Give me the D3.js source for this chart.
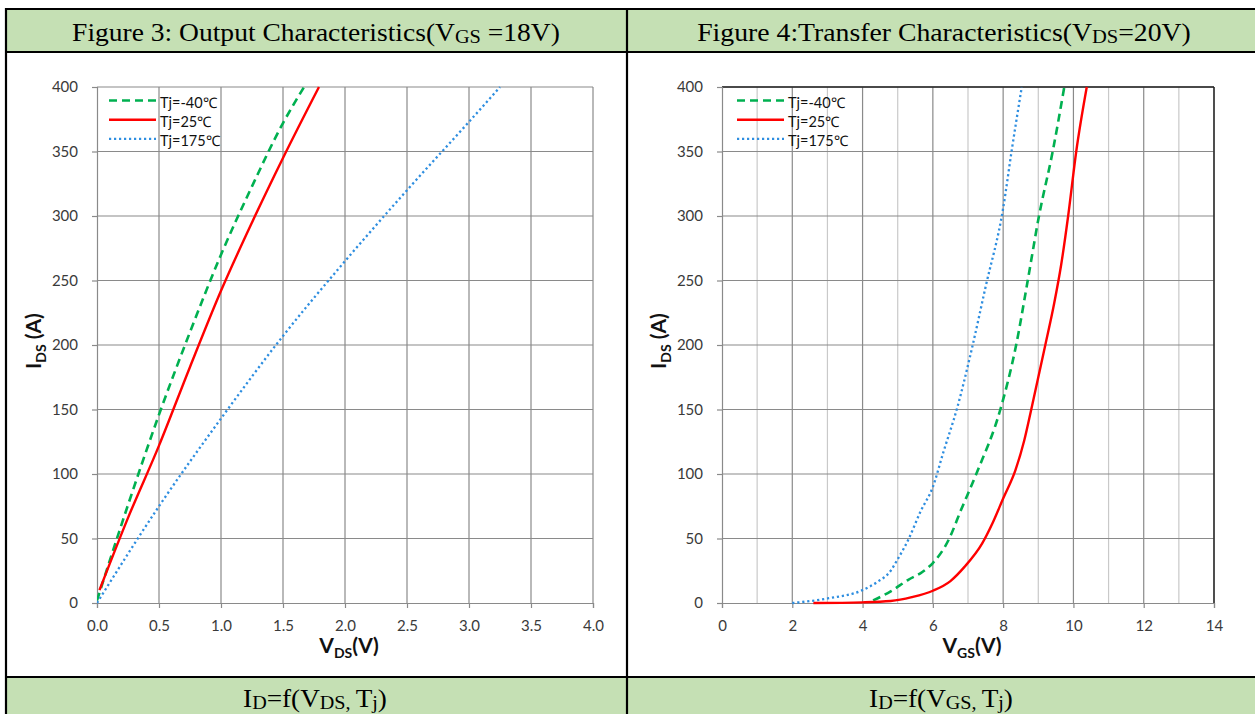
<!DOCTYPE html>
<html>
<head>
<meta charset="utf-8">
<script src="https://cdn.jsdelivr.net/npm/d3@7"></script>
<style>
  body { margin: 0; background: #fff; }
  svg { display: block; }
</style>
</head>
<body>
<svg id="chart" width="1255" height="714"></svg>
<script>
// ---- Figure 3: output characteristics, I_DS vs V_DS at V_GS = 18 V ----
const vdsTicks = [0, 0.5, 1.0, 1.5, 2.0, 2.5, 3.0, 3.5, 4.0];
const currentTicks = [0, 50, 100, 150, 200, 250, 300, 350, 400];
const outputTjM40 = [[0, 2], [0.25, 76], [0.5, 146], [0.75, 210], [1.0, 270], [1.25, 323], [1.5, 372], [1.67, 400]];
const outputTj25 = [[0.02, 10], [0.25, 66], [0.5, 122], [0.75, 183], [1.0, 242], [1.25, 295], [1.5, 345], [1.79, 400]];
const outputTj175 = [[0, 0], [0.5, 75], [1.0, 143], [1.5, 207], [2.0, 265], [2.5, 320], [3.0, 373], [3.25, 400]];

// ---- Figure 4: transfer characteristics, I_DS vs V_GS at V_DS = 20 V ----
const vgsTicks = [0, 2, 4, 6, 8, 10, 12, 14];
const vgsGrid = [1, 2, 3, 4, 5, 6, 7, 8, 9, 10, 11, 12, 13, 14];
const transferTjM40 = [[4.3, 2], [4.8, 9], [5.3, 18], [5.7, 24], [6.0, 31], [6.45, 49], [6.8, 72], [7.25, 101],
  [7.92, 150], [8.37, 200], [8.7, 250], [9.02, 300], [9.41, 350], [9.74, 400]];
const transferTj25 = [[2.6, 0], [4.0, 0.5], [4.8, 1.5], [5.4, 4.5], [6.0, 9.5], [6.5, 17], [6.9, 28], [7.4, 46],
  [7.7, 62], [8.0, 81], [8.35, 103], [8.6, 126], [8.8, 150], [9.2, 200], [9.45, 232], [9.65, 262], [9.85, 300],
  [10.08, 350], [10.38, 400]];
const transferTj175 = [[2.0, 0], [3.0, 3.5], [4.0, 10], [4.4, 16], [4.8, 25], [5.0, 34], [5.3, 49], [5.65, 71],
  [6.0, 90], [6.3, 117], [6.7, 152], [7.1, 196], [7.5, 245], [8.0, 306], [8.25, 352], [8.53, 400]];

const legendLabels = ["Tj=-40\u2103", "Tj=25\u2103", "Tj=175\u2103"];

const seriesStyles = [
  { color: "#00b050", width: 2.6, dash: "8,5" },
  { color: "#ff0000", width: 2.4, dash: null },
  { color: "#2e8ee0", width: 2.3, dash: "2.2,2.8" }
];

const svg = d3.select("#chart");
const serif = "'Liberation Serif', 'Times New Roman', serif";
const sans = "Lato, 'Open Sans', sans-serif";

// ---- table frame ----
const headerFill = "#c5e0b4";
svg.append("rect").attr("x", 6).attr("y", 9).attr("width", 1260).attr("height", 43).attr("fill", headerFill);
svg.append("rect").attr("x", 6).attr("y", 677).attr("width", 1260).attr("height", 40).attr("fill", headerFill);
const frame = svg.append("g").attr("stroke", "#000").attr("stroke-width", 2.2);
frame.append("line").attr("x1", 6).attr("x2", 1260).attr("y1", 9).attr("y2", 9);
frame.append("line").attr("x1", 6).attr("x2", 1260).attr("y1", 52).attr("y2", 52);
frame.append("line").attr("x1", 6).attr("x2", 1260).attr("y1", 677).attr("y2", 677);
frame.append("line").attr("x1", 6).attr("x2", 6).attr("y1", 8).attr("y2", 714);
frame.append("line").attr("x1", 627).attr("x2", 627).attr("y1", 8).attr("y2", 714);

// Cell text with subscripts, stretched horizontally to the cell's text width
function richText(cx, y, parts, size, width) {
  const t = svg.append("text").attr("x", 0).attr("y", 0).attr("text-anchor", "middle")
    .attr("font-family", serif).attr("font-size", size).attr("fill", "#000");
  let shift = 0;
  parts.forEach(p => {
    const sub = p.sub === true;
    const target = sub ? 2 : 0;
    t.append("tspan").attr("dy", target - shift).attr("font-size", sub ? size * 0.74 : size)
      .style("white-space", "pre").text(p.t);
    shift = target;
  });
  const w = t.node().getBBox().width;
  const k = width / w;
  t.attr("transform", `translate(${cx},${y}) scale(${k},1)`);
  return t;
}

richText(316, 41, [{ t: "Figure 3: Output Characteristics(V" }, { t: "GS", sub: true }, { t: " =18V)" }], 25, 488);
richText(944, 41, [{ t: "Figure 4:Transfer Characteristics(V" }, { t: "DS", sub: true }, { t: "=20V)" }], 25, 494);
richText(315, 707, [{ t: "I" }, { t: "D", sub: true }, { t: "=f(V" }, { t: "DS, ", sub: true }, { t: "T" }, { t: "j", sub: true }, { t: ")" }], 25, 144);
richText(941, 707, [{ t: "I" }, { t: "D", sub: true }, { t: "=f(V" }, { t: "GS, ", sub: true }, { t: "T" }, { t: "j", sub: true }, { t: ")" }], 25, 144);

// ---- one chart panel ----
function drawPanel(cfg) {
  const g = svg.append("g");
  const x = d3.scaleLinear().domain(cfg.xDomain).range([cfg.left, cfg.right]);
  const y = d3.scaleLinear().domain([0, 400]).range([603, 87]);

  // grid
  const grid = g.append("g");
  cfg.xGrid.forEach(v => {
    const minor = cfg.minor && cfg.minor(v);
    grid.append("line").attr("x1", x(v)).attr("x2", x(v)).attr("y1", y(0)).attr("y2", y(400))
      .attr("stroke", minor ? "#c9c9c9" : "#8a8a8a").attr("stroke-width", 1.2);
  });
  currentTicks.filter(v => v > 0).forEach(v => {
    grid.append("line").attr("x1", x(cfg.xDomain[0])).attr("x2", x(cfg.xDomain[1])).attr("y1", y(v)).attr("y2", y(v))
      .attr("stroke", "#8a8a8a").attr("stroke-width", 1.2);
  });
  if (cfg.darkFrame) {
    grid.append("line").attr("x1", x(cfg.xDomain[0])).attr("x2", x(cfg.xDomain[1])).attr("y1", y(400)).attr("y2", y(400))
      .attr("stroke", "#222").attr("stroke-width", 1.4);
    grid.append("line").attr("x1", x(cfg.xDomain[1])).attr("x2", x(cfg.xDomain[1])).attr("y1", y(0)).attr("y2", y(400))
      .attr("stroke", "#222").attr("stroke-width", 1.4);
  }

  // axes
  const yAxis = d3.axisLeft(y).tickValues(currentTicks).tickSize(5).tickPadding(14).tickFormat(d3.format("d"));
  const xAxis = d3.axisBottom(x).tickValues(cfg.xTicks).tickSize(5).tickPadding(12).tickFormat(cfg.xFormat);
  const ya = g.append("g").attr("transform", `translate(${cfg.left},0)`).call(yAxis);
  const xa = g.append("g").attr("transform", `translate(0,${y(0)})`).call(xAxis);
  [ya, xa].forEach(a => {
    a.select(".domain").attr("stroke", "#8a8a8a").attr("stroke-width", 1.2);
    a.selectAll(".tick line").attr("stroke", "#8a8a8a").attr("stroke-width", 1.2);
    a.selectAll(".tick text").attr("font-family", sans).attr("font-size", 15).attr("fill", "#3a3a3a");
  });

  // curves
  const clipId = "clip" + cfg.left;
  g.append("clipPath").attr("id", clipId).append("rect")
    .attr("x", cfg.left).attr("y", y(400) - 2).attr("width", cfg.right - cfg.left).attr("height", y(0) - y(400) + 4);
  const line = d3.line().x(d => x(d[0])).y(d => y(d[1])).curve(d3.curveMonotoneX);
  cfg.series.forEach((s, i) => {
    const st = seriesStyles[i];
    g.append("path").datum(s).attr("clip-path", `url(#${clipId})`)
      .attr("d", line).attr("fill", "none").attr("stroke", st.color).attr("stroke-width", st.width)
      .attr("stroke-dasharray", st.dash).attr("stroke-linejoin", "round");
  });

  // legend
  const lg = g.append("g");
  legendLabels.forEach((label, i) => {
    const st = seriesStyles[i];
    const ly = 100.5 + i * 19.2;
    lg.append("line").attr("x1", cfg.legendX).attr("x2", cfg.legendX + 47).attr("y1", ly).attr("y2", ly)
      .attr("stroke", st.color).attr("stroke-width", st.width).attr("stroke-dasharray", st.dash);
    lg.append("text").attr("x", cfg.legendX + 51).attr("y", ly + 3.5).attr("dominant-baseline", "middle")
      .attr("font-family", sans).attr("font-size", 14.5).attr("fill", "#111").text(label);
  });

  // axis titles
  const xt = g.append("text").attr("x", cfg.xTitleX).attr("y", 653).attr("text-anchor", "middle")
    .attr("font-family", sans).attr("font-weight", "bold").attr("font-size", 21).attr("fill", "#111");
  xt.append("tspan").text("V");
  xt.append("tspan").attr("dy", 5).attr("font-size", 14).text(cfg.xSub);
  xt.append("tspan").attr("dy", -5).text("(V)");

  const yt = g.append("text").attr("transform", `translate(${cfg.yTitleX},341) rotate(-90)`).attr("text-anchor", "middle")
    .attr("font-family", sans).attr("font-weight", "bold").attr("font-size", 21).attr("fill", "#111");
  yt.append("tspan").text("I");
  yt.append("tspan").attr("dy", 5).attr("font-size", 14).text("DS");
  yt.append("tspan").attr("dy", -5).style("white-space", "pre").text(" (A)");
}

drawPanel({
  left: 97, right: 593, xDomain: [0, 4], xTicks: vdsTicks, xGrid: vdsTicks.filter(v => v > 0),
  xFormat: d3.format(".1f"), series: [outputTjM40, outputTj25, outputTj175],
  legendX: 109, xTitleX: 349, xSub: "DS", yTitleX: 41, darkFrame: false
});

drawPanel({
  left: 722, right: 1214, xDomain: [0, 14], xTicks: vgsTicks, xGrid: vgsGrid,
  minor: v => v % 2 === 1,
  xFormat: d3.format("d"), series: [transferTjM40, transferTj25, transferTj175],
  legendX: 737, xTitleX: 972, xSub: "GS", yTitleX: 666, darkFrame: true
});
</script>
</body>
</html>
